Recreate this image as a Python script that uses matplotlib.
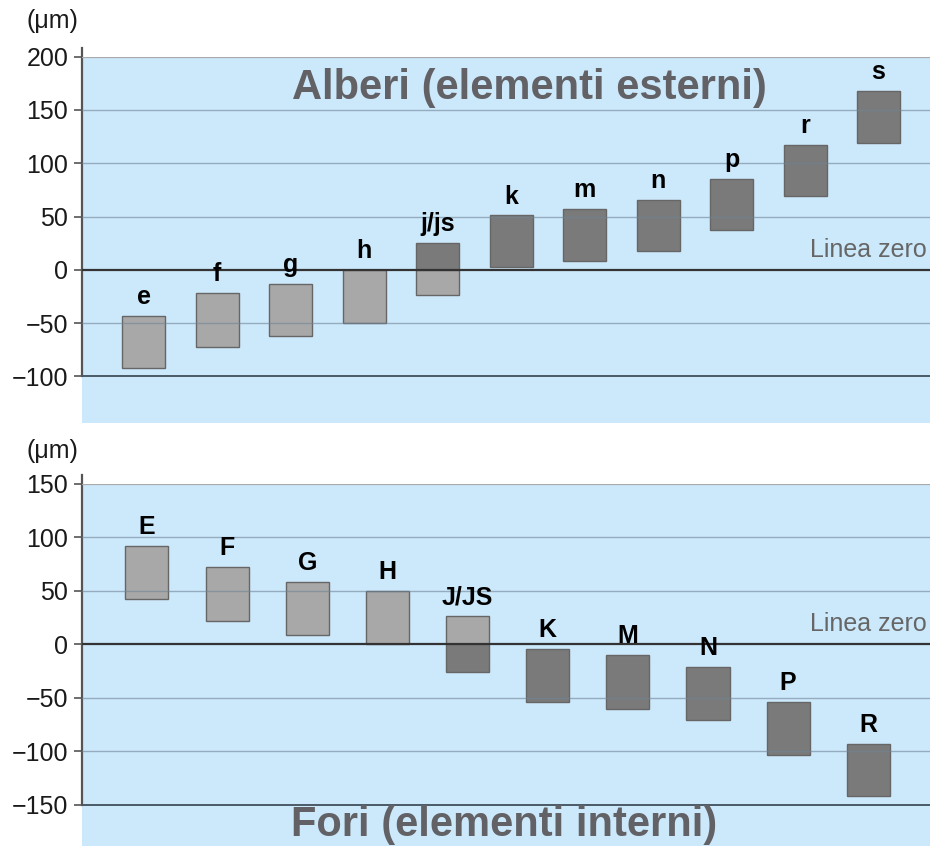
import matplotlib.pyplot as plt
import matplotlib.transforms as mtransforms

plt.rcParams['font.family'] = ['Liberation Sans', 'DejaVu Sans']

# alberi (shafts): tolerance zones, upper and lower deviation in um
shaft_labels = ['e', 'f', 'g', 'h', 'j/js', 'k', 'm', 'n', 'p', 'r', 's']
shaft_upper = [-43, -22, -13, 0, 25, 51, 57, 66, 85, 117, 168]
shaft_lower = [-92, -72, -62, -50, -24, 3, 8, 18, 37, 69, 119]
shaft_ticks = [200, 150, 100, 50, 0, -50, -100]

# fori (holes)
hole_labels = ['E', 'F', 'G', 'H', 'J/JS', 'K', 'M', 'N', 'P', 'R']
hole_upper = [92, 72, 58, 50, 26, -4, -10, -21, -54, -93]
hole_lower = [42, 22, 9, 0, -26, -54, -60, -71, -103, -142]
hole_ticks = [150, 100, 50, 0, -50, -100, -150]

BG = '#cce8fb'
LIGHT = '#a8a8a8'
DARK = '#7a7a7a'


def draw_panel(ax, labels, upper, lower, ticks, ylim, xlim, width, pos_color, neg_color):
    ax.set_facecolor(BG)
    x = list(range(len(labels)))
    for i in x:
        lo, hi = lower[i], upper[i]
        # split each zone at the zero line, colour by side
        if hi > 0:
            b = max(lo, 0)
            ax.bar(i, hi - b, width, bottom=b, color=pos_color, edgecolor='#666666', linewidth=1, zorder=2)
        if lo < 0:
            t = min(hi, 0)
            ax.bar(i, t - lo, width, bottom=lo, color=neg_color, edgecolor='#666666', linewidth=1, zorder=2)
        ax.annotate(labels[i], (i, hi), xytext=(0, 5), textcoords='offset points',
                    ha='center', va='bottom', fontsize=18, fontweight='bold', color='black', zorder=5)

    # horizontal lines, drawn over the bars
    for t in ticks:
        if t == 0:
            ax.axhline(t, color='#333333', lw=1.6, zorder=3)
        elif t == ticks[0]:
            ax.axhline(t, color='#aaaaaa', lw=1.6, zorder=3)
        elif t == ticks[-1]:
            ax.axhline(t, color='#4a5a66', lw=1.4, zorder=3)
        else:
            ax.axhline(t, color='#6f8594', lw=1.0, alpha=0.6, zorder=3)

    ax.set_xlim(*xlim)
    ax.set_ylim(*ylim)
    ax.set_yticks(ticks)
    ax.set_xticks([])
    ax.tick_params(axis='y', length=6, width=1.2, color='#555555', pad=4, labelsize=18, labelcolor='#1a1a1a')
    for s in ['top', 'right', 'bottom']:
        ax.spines[s].set_visible(False)
    ax.spines['left'].set_color('#555555')
    ax.spines['left'].set_linewidth(1.6)
    ax.spines['left'].set_bounds(ticks[-1], ticks[0] + 8)

    tr = mtransforms.blended_transform_factory(ax.transAxes, ax.transData)
    ax.text(0.9965, 12, 'Linea zero', transform=tr, ha='right', va='baseline',
            fontsize=18, color='#666666', zorder=5)


fig = plt.figure(figsize=(9.3, 8.46), dpi=100)

ax1 = fig.add_axes([0.0882, 0.5, 0.9118, 0.433])
draw_panel(ax1, shaft_labels, shaft_upper, shaft_lower, shaft_ticks,
           (-143.7, 200), (-0.837, 10.7), 0.585, DARK, LIGHT)
ax1.text(0.528, 0.8845, 'Alberi (elementi esterni)', transform=ax1.transAxes,
         ha='center', va='baseline', fontsize=30, fontweight='bold', color='#626166', zorder=6)

ax2 = fig.add_axes([0.0882, 0.0, 0.9118, 0.4283])
draw_panel(ax2, hole_labels, hole_upper, hole_lower, hole_ticks,
           (-188.4, 150), (-0.81, 9.77), 0.537, LIGHT, DARK)
ax2.text(0.4976, 0.0276, 'Fori (elementi interni)', transform=ax2.transAxes,
         ha='center', va='baseline', fontsize=30, fontweight='bold', color='#626166', zorder=6)

fig.text(52 / 930, 1 - 21 / 846, '(\u03bcm)', ha='center', va='center', fontsize=18, color='#1a1a1a')
fig.text(52 / 930, 1 - 451 / 846, '(\u03bcm)', ha='center', va='center', fontsize=18, color='#1a1a1a')

fig.savefig('out.png', dpi=100)
